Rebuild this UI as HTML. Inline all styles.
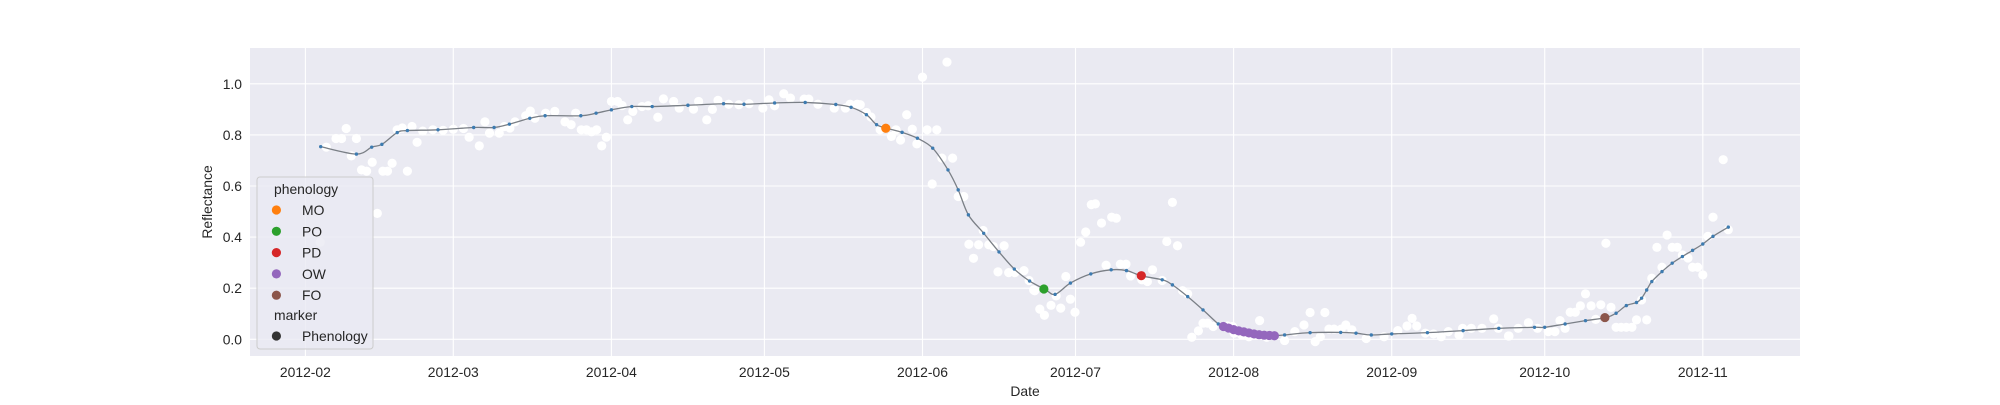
<!DOCTYPE html>
<html><head><meta charset="utf-8"><style>
html,body{margin:0;padding:0;background:#fff;}
svg text{font-family:"Liberation Sans",Arial,sans-serif;fill:#262626;}
</style></head><body>
<svg id="chart" width="2000" height="400" viewBox="0 0 2000 400" xmlns="http://www.w3.org/2000/svg">
<rect x="250" y="48" width="1550" height="308" fill="#eaeaf2"/>
<g id="grid"></g><g id="obs"></g><g id="curve"></g><g id="pheno"></g><g id="ticks"></g>
<text x="1025" y="396" font-size="13.9" text-anchor="middle">Date</text>
<text x="0" y="0" font-size="13.9" text-anchor="middle" transform="translate(212,202) rotate(-90)">Reflectance</text>
<g id="legend"></g>
</svg>
<script>
// days since 2012-02-01
const monthLabels=["2012-02","2012-03","2012-04","2012-05","2012-06","2012-07","2012-08","2012-09","2012-10","2012-11"];
const monthDays=[0,29,60,90,121,151,182,213,243,274];
const yTicks=[0.0,0.2,0.4,0.6,0.8,1.0];
const yTickLabels=["0.0","0.2","0.4","0.6","0.8","1.0"];
const obsDays=[2.9,4.1,6.0,7.1,8.0,9.0,10.0,11.0,12.0,13.1,14.1,15.2,16.1,17.0,18.0,19.0,20.0,20.9,21.9,23,25,27,29,31,32.1,34.1,35.2,36.1,38.0,39.0,40.1,41.1,43.2,44.1,45.0,47.1,48.9,50.9,52.1,53.0,54.1,55.1,56.1,57.1,58.1,59.0,60.0,61.2,62.1,63.2,64.2,66.0,67.2,69.1,70.2,72.2,73.3,76.1,77.1,78.7,79.8,80.9,83,85,87,89.7,90.9,92.0,93.8,95.1,97.8,98.7,100.5,103.7,105.9,106.8,108.2,108.8,110.0,110.9,112.7,114.9,115.8,116.7,117.9,119.0,119.9,121.0,121.9,122.9,123.8,124.8,125.8,126.9,128.0,129.1,130.1,131.0,132.0,132.9,134.0,134.9,137.0,135.8,137.9,139.1,140.9,141.9,142.8,143,144,144.9,146.2,147.2,148.1,149.1,150,150.9,152,153,154.1,154.9,156.1,158.1,159,157,159.8,160.9,161.8,164,165.1,166.1,168,168.9,170,171,172,173,173.8,175.1,176,176.9,178,180.8,181.8,182.1,183.6,185,187.1,188.5,192,194,195.8,197,198,199,199.9,200.7,201.7,203.1,204,205.2,208,211.5,214.2,216,217,217.9,219.6,221.2,222.7,224.1,226.2,226.9,228.6,230.7,233,233.9,236,237.8,239.8,235.9,241.6,243.7,245,246,247,248,249,250,251,252.1,253,254,255,256,257,258,259,260.1,261,262,263,264,265,266,267,268,269,270,271.1,272,273,274,275,276,278,279];
const obsVals=[0.38,0.752,0.786,0.786,0.825,0.718,0.786,0.663,0.658,0.693,0.493,0.658,0.658,0.689,0.82,0.827,0.658,0.833,0.771,0.815,0.82,0.818,0.822,0.825,0.791,0.757,0.851,0.807,0.807,0.833,0.827,0.851,0.875,0.893,0.865,0.885,0.892,0.851,0.84,0.885,0.82,0.82,0.812,0.82,0.757,0.791,0.931,0.931,0.915,0.859,0.892,0.911,0.914,0.869,0.941,0.931,0.905,0.901,0.931,0.859,0.90,0.935,0.92,0.918,0.922,0.905,0.937,0.914,0.961,0.944,0.94,0.94,0.92,0.905,0.905,0.92,0.92,0.918,0.888,0.87,0.82,0.794,0.82,0.78,0.879,0.822,0.765,1.026,0.82,0.608,0.82,0.709,1.085,0.709,0.559,0.559,0.372,0.317,0.37,0.426,0.37,0.363,0.366,0.264,0.261,0.261,0.269,0.23,0.193,0.19,0.118,0.094,0.133,0.17,0.122,0.246,0.157,0.106,0.38,0.42,0.527,0.53,0.455,0.478,0.474,0.29,0.294,0.294,0.248,0.233,0.226,0.272,0.23,0.383,0.536,0.366,0.19,0.178,0.008,0.033,0.063,0.063,0.05,0.052,0.05,0.024,0.017,0.01,0.073,0.008,-0.005,0.03,0.056,0.105,-0.009,0.01,0.105,0.04,0.04,0.04,0.056,0.037,0.003,0.01,0.034,0.052,0.082,0.052,0.024,0.021,0.01,0.03,0.017,0.043,0.043,0.043,0.08,0.043,0.013,0.043,0.065,0.013,0.043,0.03,0.03,0.073,0.043,0.106,0.106,0.131,0.178,0.131,0.078,0.135,0.376,0.125,0.047,0.047,0.047,0.047,0.076,0.154,0.076,0.239,0.36,0.282,0.408,0.36,0.36,0.33,0.318,0.282,0.282,0.252,0.403,0.478,0.703,0.429];
const curveDays=[3,10,13,15,18,20,26,33,37,40,44,47,54,57,60,64,68,75,82,86,92,98,104,107,110,112,114,117,120,123,126,128,130,133,136,139,142,145,147,150,154,158,161,164,168,170,173,176,179,180,181,182,183,184,185,186,187,188,189,190,192,197,203,206,209,213,220,227,234,241,243,247,251,255,257,259,261,262,263,264,266,268,270,272,274,276,279];
const curveVals=[0.754,0.725,0.752,0.763,0.809,0.817,0.82,0.829,0.829,0.842,0.865,0.875,0.875,0.885,0.898,0.911,0.911,0.916,0.922,0.92,0.925,0.927,0.919,0.908,0.879,0.84,0.826,0.81,0.787,0.748,0.663,0.585,0.487,0.415,0.342,0.275,0.228,0.196,0.176,0.22,0.256,0.272,0.269,0.248,0.233,0.213,0.167,0.115,0.06,0.05,0.044,0.038,0.033,0.029,0.025,0.021,0.018,0.016,0.015,0.014,0.017,0.026,0.027,0.024,0.017,0.021,0.026,0.034,0.043,0.047,0.047,0.06,0.073,0.085,0.102,0.132,0.144,0.161,0.193,0.226,0.265,0.298,0.324,0.348,0.373,0.403,0.439];
const phenoNames=["MO","PO","PD","OW","OW","OW","OW","OW","OW","OW","OW","OW","OW","OW","FO"];
const phenoDays=[113.8,144.8,163.9,180,181,182,183,184,185,186,187,188,189,190,254.8];
const phenoVals=[0.826,0.197,0.249,0.05,0.044,0.038,0.033,0.029,0.025,0.021,0.018,0.016,0.015,0.014,0.085];
const legendNames=["MO","PO","PD","OW","FO"];
const legendColors=["#ff7f0e","#2ca02c","#d62728","#9467bd","#8c564b"];

const NS="http://www.w3.org/2000/svg";
const X=d=>305.4+d*5.1;
const Y=v=>339.3-v*255.5;
function mk(tag,attrs,parent){const e=document.createElementNS(NS,tag);for(const k in attrs)e.setAttribute(k,attrs[k]);parent.appendChild(e);return e;}
const grid=document.getElementById('grid'),ticks=document.getElementById('ticks');
monthDays.forEach((d,i)=>{
  const l=mk('line',{x1:X(d),x2:X(d),y1:48,y2:356,stroke:'#fff','stroke-width':1.1},grid);
  
  
  const t=mk('text',{x:X(d),y:377,'font-size':13.9,'text-anchor':'middle'},ticks);
  t.textContent=monthLabels[i];
  
  
});
yTicks.forEach((v,i)=>{
  const l=mk('line',{x1:250,x2:1800,y1:Y(v),y2:Y(v),stroke:'#fff','stroke-width':1.1},grid);
  
  
  const t=mk('text',{x:242,y:Y(v)+5,'font-size':13.9,'text-anchor':'end'},ticks);
  t.textContent=yTickLabels[i];
  
  
});
const obs=document.getElementById('obs');
obsDays.forEach((d,i)=>{
  const c=mk('circle',{cx:X(d),cy:Y(obsVals[i]),r:4.6,fill:'#fff'},obs);
  
  
});
const cg=document.getElementById('curve');
const pts=curveDays.map((d,i)=>[X(d),Y(curveVals[i])]);
let p='M'+pts[0][0]+','+pts[0][1];
for(let i=0;i<pts.length-1;i++){const p0=pts[Math.max(0,i-1)],p1=pts[i],p2=pts[i+1],p3=pts[Math.min(pts.length-1,i+2)];
  const c1x=p1[0]+(p2[0]-p0[0])/6,c1y=p1[1]+(p2[1]-p0[1])/6,c2x=p2[0]-(p3[0]-p1[0])/6,c2y=p2[1]-(p3[1]-p1[1])/6;
  p+=` C${c1x},${c1y} ${c2x},${c2y} ${p2[0]},${p2[1]}`;}
const path=mk('path',{d:p,fill:'none',stroke:'#7a7f86','stroke-width':1.3},cg);


pts.forEach(q=>{const c=mk('circle',{cx:q[0],cy:q[1],r:1.7,fill:'#3d7bb0'},cg);
  
  });
const pg=document.getElementById('pheno');
phenoDays.forEach((d,i)=>{
  const c=mk('circle',{cx:X(d),cy:Y(phenoVals[i]),r:4.6,fill:legendColors[legendNames.indexOf(phenoNames[i])]},pg);
  
  
});
const lg=document.getElementById('legend');
const box=mk('rect',{x:257,y:177,width:116,height:172,rx:3,fill:'#eaeaf2','fill-opacity':0.8,stroke:'#cccccc','stroke-width':1},lg);


const t1=mk('text',{x:274,y:194,'font-size':13.9},lg);t1.textContent='phenology';


legendNames.forEach((n,i)=>{const y=210+i*21.3;
  const c=mk('circle',{cx:276.4,cy:y,r:4.6,fill:legendColors[i]},lg);
  
  
  const t=mk('text',{x:302,y:y+5,'font-size':13.9},lg);t.textContent=n;
  
  });
const t2=mk('text',{x:274,y:320,'font-size':13.9},lg);t2.textContent='marker';


const c2=mk('circle',{cx:276.4,cy:336,r:4.6,fill:'#333'},lg);


const t3=mk('text',{x:302,y:341,'font-size':13.9},lg);t3.textContent='Phenology';


</script>
</body></html>
